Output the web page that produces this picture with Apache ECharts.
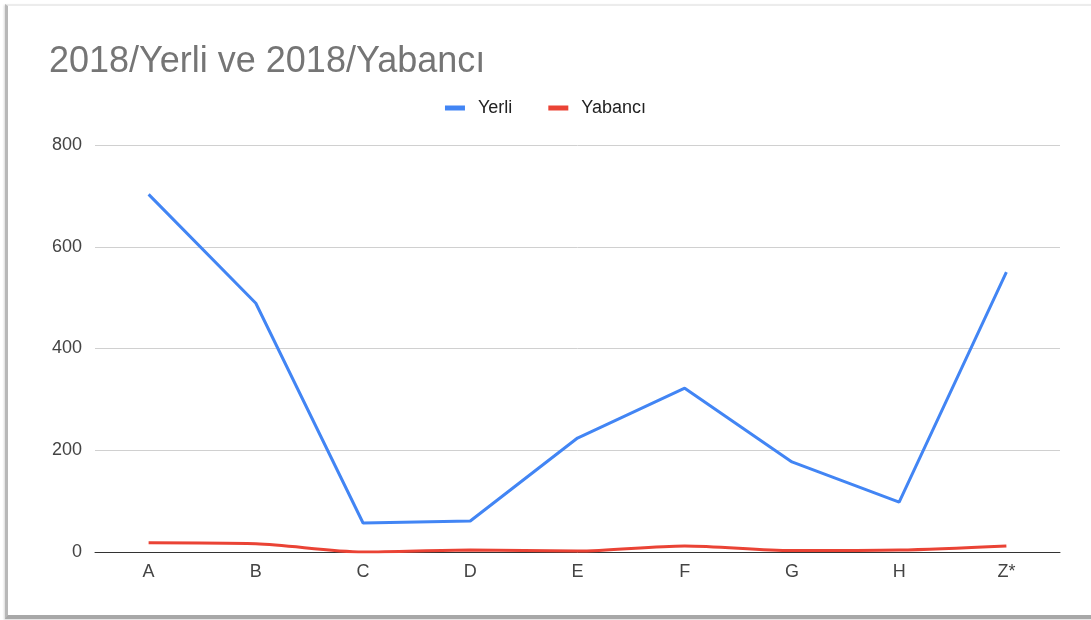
<!DOCTYPE html>
<html>
<head>
<meta charset="utf-8">
<script src="https://cdn.jsdelivr.net/npm/echarts@6/dist/echarts.min.js"></script>
<style>
  html, body {
    margin: 0;
    padding: 0;
    background: #fff;
  }
  .frame {
    position: absolute;
    left: 5px;
    top: 4px;
    width: 1100px;
    height: 609px;
    border-left: 3px solid #b8b8b8;
    border-top: 2px solid #ececec;
    border-bottom: 4px solid #a8a8a8;
    box-shadow: -1px 1px 2px rgba(0,0,0,0.15);
  }
  #chart {
    position: absolute;
    left: 0;
    top: 0;
    width: 1091px;
    height: 620px;
  }
</style>
</head>
<body>
<div class="frame"></div>
<div id="chart"></div>
<script>
// kategoriler ve seriler
var categories = ['A', 'B', 'C', 'D', 'E', 'F', 'G', 'H', 'Z*'];
var yerli = [703, 489, 57, 61, 224, 322, 177, 98, 550];
var yabanci = [18, 16, 0, 4, 2, 12, 3, 4, 12];

var font = 'Liberation Sans, Arial, sans-serif';

var chart = echarts.init(document.getElementById('chart'));
chart.setOption({
  animation: false,
  title: {
    text: '2018/Yerli ve 2018/Yabancı',
    left: 44,
    top: 39,
    textStyle: {
      fontFamily: font,
      fontSize: 36,
      fontWeight: 'normal',
      color: '#757575'
    }
  },
  legend: {
    top: 94,
    left: 'center',
    itemWidth: 20,
    itemHeight: 5,
    itemGap: 36,
    icon: 'rect',
    textStyle: {
      fontFamily: font,
      fontSize: 18,
      color: '#222',
      padding: [0, 0, 0, 8]
    },
    data: ['Yerli', 'Yabancı']
  },
  grid: {
    left: 95,
    right: 31,
    top: 145,
    bottom: 68,
    containLabel: false
  },
  xAxis: {
    type: 'category',
    data: categories,
    boundaryGap: true,
    axisTick: { show: false },
    axisLine: { lineStyle: { color: '#333', width: 1 } },
    axisLabel: {
      fontFamily: font,
      fontSize: 18,
      color: '#444',
      margin: 11
    }
  },
  yAxis: {
    type: 'value',
    min: 0,
    max: 800,
    interval: 200,
    axisLabel: {
      fontFamily: font,
      fontSize: 18,
      color: '#444',
      margin: 13
    },
    splitLine: { lineStyle: { color: '#d0d0d0' } }
  },
  series: [
    {
      name: 'Yerli',
      type: 'line',
      data: yerli,
      showSymbol: false,
      lineStyle: { width: 3, color: '#4285F4' },
      itemStyle: { color: '#4285F4' }
    },
    {
      name: 'Yabancı',
      type: 'line',
      data: yabanci,
      smooth: 0.3,
      showSymbol: false,
      lineStyle: { width: 3, color: '#EA4335' },
      itemStyle: { color: '#EA4335' }
    }
  ]
});
</script>
</body>
</html>
